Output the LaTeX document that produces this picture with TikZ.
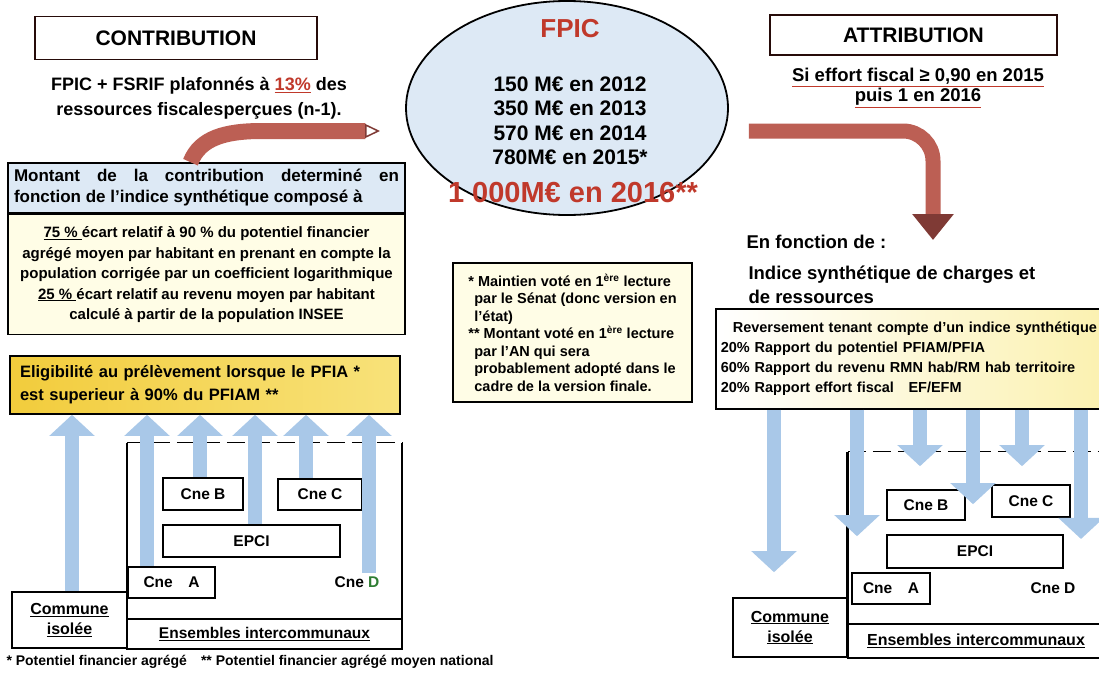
\documentclass[tikz,border=0pt]{standalone}
\usepackage{fontspec}
\setmainfont{Liberation Sans}
\usepackage{xcolor}
\usetikzlibrary{arrows.meta,positioning,shapes.geometric,calc}
\definecolor{fpsky}{HTML}{A9C8E8}
\definecolor{fpblue}{HTML}{DDE9F5}
\definecolor{fpcream}{HTML}{FFFDE6}
\definecolor{fpgold}{HTML}{F2CC3C}
\definecolor{fpgoldlight}{HTML}{F8E27A}
\definecolor{fppale}{HTML}{FBF1B0}
\definecolor{fpbrick}{HTML}{BC5F54}
\definecolor{fpdark}{HTML}{7F3A35}
\definecolor{fpred}{HTML}{C0392B}
\definecolor{fpgreen}{HTML}{2E7D32}
\newcommand{\fsz}[2]{\fontsize{#1}{#2}\selectfont\bfseries}
\newcommand{\redul}[1]{\textcolor{fpred}{\underline{\textcolor{black}{#1}}}}

\begin{document}
\begin{tikzpicture}[x=1pt,y=-1pt,
  box/.style={draw,line width=1.6pt,inner sep=0pt,align=center},
  title/.style={box,draw=black!80!fpred,fill=white,font=\fsz{21}{25}},
  cne/.style={box,fill=white,font=\fsz{15.5}{18}},
  bluearr/.style={draw=fpsky,line width=14pt,-{Triangle[width=44pt,length=21pt]}},
  brick/.style={draw=fpbrick,line width=16pt}]
  \useasboundingbox (0,0) rectangle (1099,672);
  \fill[white] (0,0) rectangle (1099,672);
  % contribution side
  \node[title,minimum width=282pt,minimum height=43pt] (contrib) at (176,38) {CONTRIBUTION};
  \node[align=center,font=\fsz{18}{25}] (plafond) at (199,98) {FPIC + FSRIF plafonnés à \textcolor{fpred}{\underline{13\%}} des\\ressources fiscalesperçues (n-1).};
  \node[box,fill=fpblue,minimum width=397pt,minimum height=50pt,text width=385pt,align=justify,font=\fsz{17}{21}] (montant) at (206.5,188) {Montant de la contribution determiné en\linebreak fonction de l'indice synthétique composé à};
  \node[box,fill=fpcream,minimum width=397pt,minimum height=120pt,font=\fsz{15}{20.5},below=0pt of montant] (ecart) {\underline{75 \%~}écart relatif à 90 \% du potentiel financier\\agrégé moyen par habitant en prenant en compte la\\population corrigée par un coefficient logarithmique\\\underline{25 \%~}écart relatif au revenu moyen par habitant\\calculé à partir de la population INSEE};
  \node[box,left color=fpgold,right color=fpgoldlight,minimum width=390pt,minimum height=58pt,text width=370pt,align=left,font=\fsz{16.5}{23}] (elig) at (205,385) {Eligibilité au prélèvement lorsque le PFIA *\\est superieur à 90\% du PFIAM **};
  \node[minimum width=275pt,minimum height=175pt] (ens) at (264.5,530.5) {};
  \draw[line width=1.6pt] (ens.north west) -- (ens.south west) (ens.north east) -- (ens.south east);
  \draw[line width=1.2pt,dash pattern=on 18pt off 7pt] (ens.north west) -- (ens.north east);
  \node[box,minimum width=275pt,minimum height=30pt,below=0pt of ens,font=\fsz{15.5}{18}] (ensl) {\underline{Ensembles intercommunaux}};
  \node[box,minimum width=115pt,minimum height=56pt,font=\fsz{16}{20}] (iso) at (69.5,620) {\underline{Commune}\\\underline{isolée}};
  \node[cne,minimum width=80pt,minimum height=32pt] (cneB) at (203,494) {Cne B};
  \node[cne,minimum width=84pt,minimum height=31pt] (cneC) at (320,494.5) {Cne C};
  \node[cne,minimum width=177pt,minimum height=32pt] (epci) at (251.5,541) {EPCI};
  \node[cne,minimum width=87pt,minimum height=31pt] (cneA) at (171.5,582.5) {Cne\quad A};
  \node[font=\fsz{15.5}{18}] (cneD) at (357,582) {Cne \textcolor{fpgreen}{D}};
  \foreach \c/\x in {1/72,2/147,3/200,4/255,5/306,6/369} \coordinate (u\c) at (\x,0);
  \draw[bluearr] (u1 |- iso.north) -- (u1 |- elig.south);
  \draw[bluearr] (u2 |- cneA.north) -- (u2 |- elig.south);
  \draw[bluearr] (u3 |- cneB.north) -- (u3 |- elig.south);
  \draw[bluearr] (u4 |- epci.north) -- (u4 |- elig.south);
  \draw[bluearr] (u5 |- cneC.north) -- (u5 |- elig.south);
  \draw[bluearr] (u6 |- cneD.north) -- (u6 |- elig.south);
  \node[anchor=west,font=\fsz{14}{16}] (renvois) at (3,662) {* Potentiel financier agrégé\quad ** Potentiel financier agrégé moyen national};
  % FPIC amounts
  \node[ellipse,draw,line width=1.8pt,fill=fpblue,minimum width=322pt,minimum height=214pt] (pot) at (567,108) {};
  \node[text=fpred,font=\fsz{26}{30}] (fpic) at (570,29) {FPIC};
  \node[align=center,font=\fsz{21}{24.5}] (annees) at (570,121) {150 M€ en 2012\\350 M€ en 2013\\570 M€ en 2014\\780M€ en 2015*};
  \node[text=fpred,font=\fsz{29}{32}] (total) at (573,193) {1 000M€ en 2016**};
  \node[box,fill=fpcream,minimum width=239pt,minimum height=139pt,align=left,font=\fsz{14.5}{17.5}] (votes) at (572.5,332.5) {* Maintien voté en 1\textsuperscript{ère} lecture\\\hspace{6pt}par le Sénat (donc version en\\\hspace{6pt}l'état)\\** Montant voté en 1\textsuperscript{ère} lecture\\\hspace{6pt}par l'AN qui sera\\\hspace{6pt}probablement adopté dans le\\\hspace{6pt}cadre de la version finale.};
  \coordinate (ltip) at (380,131);
  \draw[brick,-{Triangle[open,width=14pt,length=15pt,line width=1.5pt,color=fpdark]}] ([xshift=-16pt]montant.north) .. controls (200,138) and (225,131) .. (262,131) -- (ltip);
  % attribution side
  \node[title,minimum width=287pt,minimum height=40pt] (attrib) at (913.5,35) {ATTRIBUTION};
  \node[align=center,font=\fsz{18.5}{20}] (effort) at (918,88) {\redul{Si effort fiscal ≥ 0,90 en 2015}\\\redul{puis 1 en 2016}};
  \coordinate (rtip) at (933,240);
  \draw[brick,line width=15pt,rounded corners=30pt,-{Triangle[width=40pt,length=26pt,color=fpdark]}] ([xshift=20pt,yshift=-23pt]pot.east) -| (rtip);
  \node[anchor=west,font=\fsz{18.5}{24}] (enfct) at (743,242) {En fonction de :};
  \node[anchor=west,align=left,font=\fsz{18.5}{24}] (indice) at (745,285) {Indice synthétique de charges et\\de ressources};
  \node[box,left color=white,right color=fppale,minimum width=389pt,minimum height=100pt,anchor=north west,text width=379pt,align=left,font=\fsz{14.5}{20}] (rev) at (715,308) {\hspace{12pt}Reversement tenant compte d'un indice synthétique\\20\% Rapport du potentiel PFIAM/PFIA\\60\% Rapport du revenu RMN hab/RM hab territoire\\20\% Rapport effort fiscal\quad EF/EFM};
  \node[minimum width=256pt,minimum height=171pt] (ens2) at (976,537.5) {};
  \draw[line width=3pt] (ens2.north west) -- (ens2.south west);
  \draw[line width=1.2pt,dash pattern=on 18pt off 7pt] (ens2.north west) -- (ens2.north east);
  \node[box,minimum width=256pt,minimum height=34pt,below=0pt of ens2,font=\fsz{16}{18}] (ensl2) {\underline{Ensembles intercommunaux}};
  \node[box,minimum width=114pt,minimum height=59pt,font=\fsz{16}{20}] (iso2) at (790,627.5) {\underline{Commune}\\\underline{isolée}};
  \node[cne,minimum width=78pt,minimum height=30pt] (cneB2) at (926,505) {Cne B};
  \node[cne,minimum width=78pt,minimum height=32pt] (cneC2) at (1031,501) {Cne C};
  \node[cne,minimum width=176pt,minimum height=33pt] (epci2) at (975,551.5) {EPCI};
  \node[cne,minimum width=78pt,minimum height=31pt] (cneA2) at (891,588.5) {Cne\quad A};
  \node[font=\fsz{15.5}{18}] (cneD2) at (1053,588) {Cne D};
  \foreach \c/\x in {1/774,2/857,3/920,4/973,5/1022,6/1081} \coordinate (d\c) at (\x,0);
  \draw[bluearr,shorten >=25pt] (d1 |- rev.south) -- (d1 |- iso2.north);
  \draw[bluearr,shorten >=36pt] (d2 |- rev.south) -- (d2 |- cneA2.north);
  \draw[bluearr,shorten >=23pt] (d3 |- rev.south) -- (d3 |- cneB2.north);
  \draw[bluearr,shorten >=30pt] (d4 |- rev.south) -- (d4 |- epci2.north);
  \draw[bluearr,shorten >=18pt] (d5 |- rev.south) -- (d5 |- cneC2.north);
  \draw[bluearr,shorten >=40pt] (d6 |- rev.south) -- (d6 |- cneD2.north);
\end{tikzpicture}
\end{document}
